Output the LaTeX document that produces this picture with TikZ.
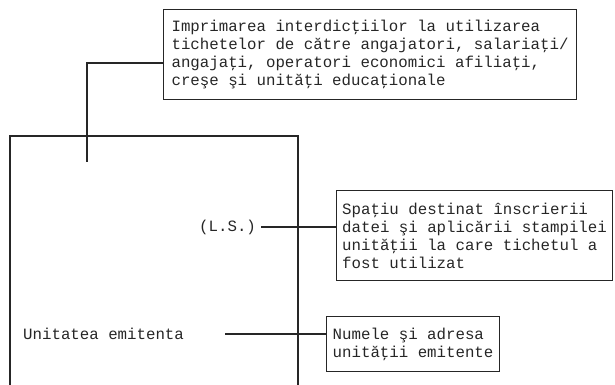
\documentclass[tikz,border=0pt]{standalone}
\usepackage{fontspec}
\setmainfont{Liberation Mono}
\begin{document}
\begin{tikzpicture}[x=1pt,y=-1pt,
  ln/.style={line width=1.1pt,draw=black!85},
  txt/.style={font={\fontsize{15.75}{18}\selectfont},text=black!85},
  infobox/.style={txt,ln,draw,anchor=north west,align=left,inner sep=0pt}]
\useasboundingbox (0,0) rectangle (615,385);
% main ticket outline (open at the bottom)
\draw[ln] (10,385) -- (10,136) -- (298,136) -- (298,385);
% boxes
\node[infobox,minimum width=413pt,minimum height=90pt] (tb) at (163,9)
  {Imprimarea interdicţiilor la utilizarea\\tichetelor de către angajatori, salariaţi/\\angajaţi, operatori economici afiliaţi,\\creşe şi unităţi educaţionale};
\node[infobox,minimum width=276pt,minimum height=90pt] (b2) at (336,190)
  {Spaţiu destinat înscrierii\\datei şi aplicării stampilei\\unităţii la care tichetul a\\fost utilizat};
\node[infobox,minimum width=173pt,minimum height=55pt] (b3) at (326,316)
  {Numele şi adresa\\unităţii emitente};
% labels inside the ticket
\node[txt,anchor=west,inner sep=0pt] (ls) at (199,227) {(L.S.)};
\node[txt,anchor=west,inner sep=0pt] (ue) at (23,334) {Unitatea emitenta};
% connectors
\coordinate (c1) at (87,63);
\coordinate (c2) at (87,162);
\draw[ln] (tb.west |- c1) -- (c1) -- (c2);
\draw[ln] ([xshift=5pt]ls.east) -- (ls.east -| b2.west);
\draw[ln] ([xshift=41pt]ue.east) -- (ue.east -| b3.west);
\end{tikzpicture}
\end{document}
